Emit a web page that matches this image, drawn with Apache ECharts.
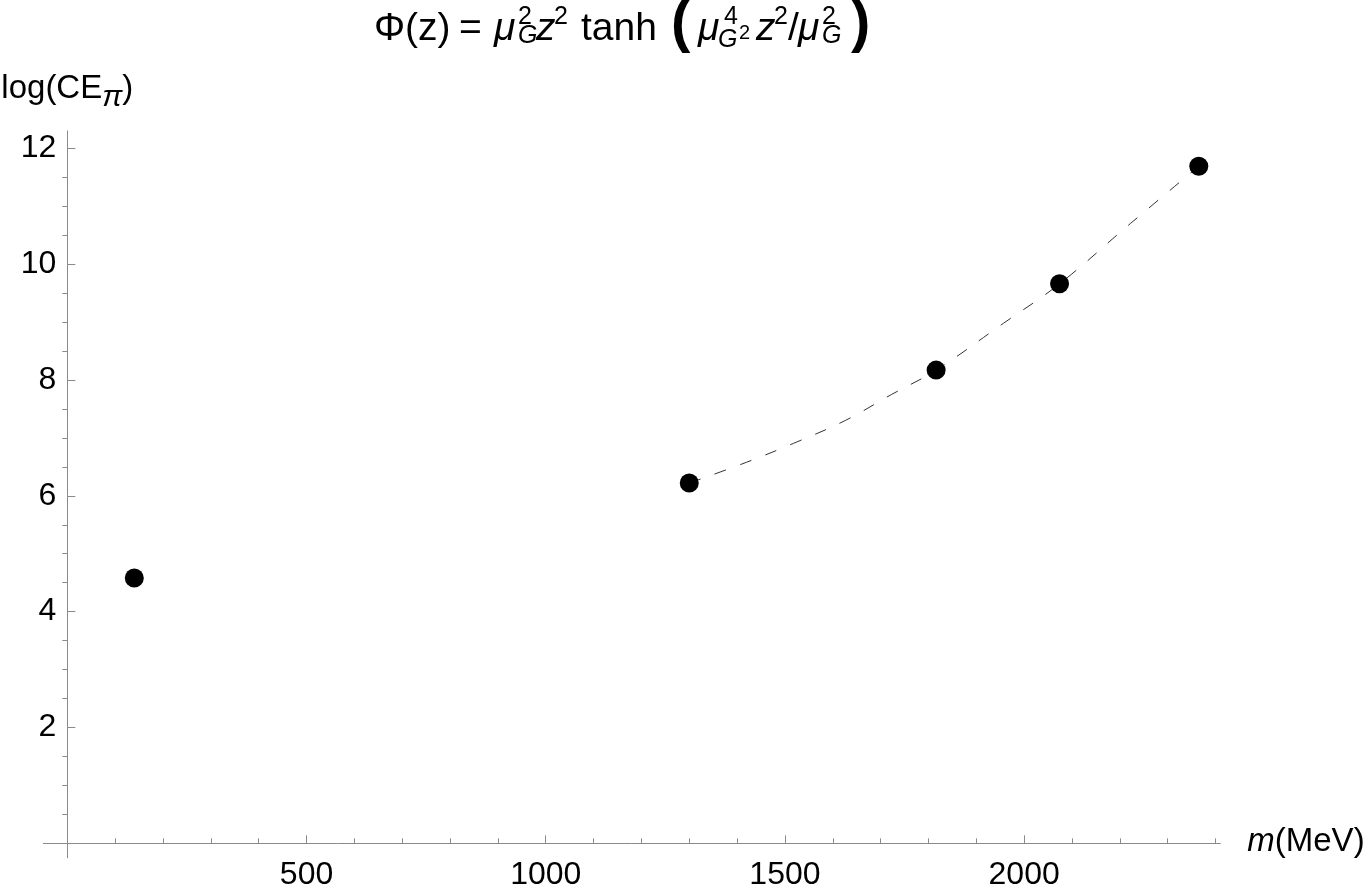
<!DOCTYPE html>
<html>
<head>
<meta charset="utf-8">
<script src="https://cdn.jsdelivr.net/npm/echarts@6/dist/echarts.min.js"></script>
<style>
html,body{margin:0;padding:0;background:#fff;}
#chart{width:1367px;height:896px;}
</style>
</head>
<body>
<div id="chart"></div>
<script>
// ---- data ----
const massMeV = [140, 1300, 1816, 2074, 2365];
const logCE = [4.58, 6.22, 8.17, 9.66, 11.69];
// dashed fit curve
const fitMass = [1300, 1420, 1525, 1626, 1723, 1816, 1957, 2074, 2222, 2365];
const fitLogCE = [6.22, 6.58, 6.93, 7.30, 7.75, 8.17, 8.98, 9.66, 10.70, 11.69];
// ticks
const xMajorTicks = [500, 1000, 1500, 2000];
const xMinorTicks = [100, 200, 300, 400, 600, 700, 800, 900, 1100, 1200, 1300, 1400, 1600, 1700, 1800, 1900, 2100, 2200, 2300, 2400];
const yMajorTicks = [2, 4, 6, 8, 10, 12];
const yMinorTicks = [0.5, 1, 1.5, 2.5, 3, 3.5, 4.5, 5, 5.5, 6.5, 7, 7.5, 8.5, 9, 9.5, 10.5, 11, 11.5];

const FONT = '"Liberation Sans", Arial, Helvetica, sans-serif';
const AXIS_COLOR = '#8a8a8a';

// title pieces: Φ(z) = μ_G^2 z^2 tanh (μ^4_{G^2} z^2/μ_G^2)
const titlePieces = [
  {t: 'Φ(z)', x: 374, y: 29, s: 39},
  {t: '=', x: 459, y: 29, s: 39},
  {t: 'μ', x: 494, y: 29, s: 39, i: true},
  {t: '2', x: 518, y: 17, s: 25},
  {t: 'G', x: 518, y: 36, s: 25, i: true},
  {t: 'z', x: 536, y: 29, s: 39, i: true},
  {t: '2', x: 554, y: 17, s: 25},
  {t: 'tanh', x: 581, y: 29, s: 39},
  {t: '(', x: 671, y: 25, s: 58, b: true},
  {t: 'μ', x: 698, y: 29, s: 39, i: true},
  {t: '4', x: 724, y: 17, s: 25},
  {t: 'G', x: 718, y: 40, s: 25, i: true},
  {t: '2', x: 739, y: 33, s: 20},
  {t: 'z', x: 756, y: 29, s: 39, i: true},
  {t: '2', x: 774, y: 17, s: 25},
  {t: '/', x: 788, y: 29, s: 39},
  {t: 'μ', x: 798, y: 29, s: 39, i: true},
  {t: '2', x: 822, y: 17, s: 25},
  {t: 'G', x: 822, y: 36, s: 25, i: true},
  {t: ')', x: 851, y: 25, s: 58, b: true}
];

const chart = echarts.init(document.getElementById('chart'), null, {renderer: 'canvas'});

const xRange = {min: -50, max: 2410};
const yRange = {min: -0.25, max: 12.3};

const option = {
  backgroundColor: '#ffffff',
  animation: false,
  textStyle: {fontFamily: FONT},
  grid: {left: 43.4, right: 146.7, top: 130.9, bottom: 38.2, containLabel: false, outerBoundsMode: 'none'},
  graphic: {
    elements: titlePieces.map(p => ({
      type: 'text', x: p.x, y: p.y, silent: true,
      style: {
        text: p.t, fill: '#000',
        font: (p.i ? 'italic ' : '') + (p.b ? 'bold ' : '') + p.s + 'px ' + FONT,
        align: 'left', verticalAlign: 'middle'
      }
    }))
  },
  xAxis: [
    {
      type: 'value', min: xRange.min, max: xRange.max, position: 'bottom',
      axisLine: {onZero: true, lineStyle: {color: AXIS_COLOR, width: 1}},
      axisTick: {show: true, inside: true, length: 8, customValues: xMajorTicks, lineStyle: {color: AXIS_COLOR}},
      axisLabel: {customValues: xMajorTicks, formatter: v => String(v), color: '#000', fontSize: 32, fontFamily: FONT, margin: 1},
      splitLine: {show: false},
      name: '{i|m}(MeV)', nameLocation: 'end', nameGap: 27,
      nameTextStyle: {color: '#000', fontSize: 33, fontFamily: FONT, padding: [0, 0, 3, 0],
        rich: {i: {fontStyle: 'italic', fontSize: 33, fontFamily: FONT, color: '#000'}}}
    },
    {
      type: 'value', min: xRange.min, max: xRange.max, position: 'bottom',
      axisLine: {show: false, onZero: true},
      axisTick: {show: true, inside: true, length: 5, customValues: xMinorTicks, lineStyle: {color: AXIS_COLOR}},
      axisLabel: {show: false},
      splitLine: {show: false}
    }
  ],
  yAxis: [
    {
      type: 'value', min: yRange.min, max: yRange.max,
      axisLine: {show: true, onZero: true, lineStyle: {color: AXIS_COLOR, width: 1}},
      axisTick: {show: true, inside: true, length: 8, customValues: yMajorTicks, lineStyle: {color: AXIS_COLOR}},
      axisLabel: {customValues: yMajorTicks, formatter: v => String(v), color: '#000', fontSize: 32, fontFamily: FONT, margin: -13},
      splitLine: {show: false},
      name: 'log(CE{s|π})', nameLocation: 'end', nameGap: 18,
      nameTextStyle: {color: '#000', fontSize: 33, fontFamily: FONT, align: 'center',
        rich: {s: {fontStyle: 'italic', fontSize: 30, fontFamily: FONT, color: '#000', padding: [18, 0, 0, 0]}}}
    },
    {
      type: 'value', min: yRange.min, max: yRange.max,
      axisLine: {show: false, onZero: true},
      axisTick: {show: true, inside: true, length: 5, customValues: yMinorTicks, lineStyle: {color: AXIS_COLOR}},
      axisLabel: {show: false},
      splitLine: {show: false}
    }
  ],
  series: [
    {
      type: 'line', xAxisIndex: 0, yAxisIndex: 0,
      data: fitMass.map((m, k) => [m, fitLogCE[k]]),
      smooth: 0.4, showSymbol: false, symbol: 'none',
      lineStyle: {color: '#333', width: 1, type: [12, 15]},
      z: 2
    },
    {
      type: 'scatter', xAxisIndex: 0, yAxisIndex: 0,
      data: massMeV.map((m, k) => [m, logCE[k]]),
      symbol: 'circle', symbolSize: 19,
      itemStyle: {color: '#000', opacity: 1},
      z: 3
    }
  ]
};
chart.setOption(option);
</script>
</body>
</html>
